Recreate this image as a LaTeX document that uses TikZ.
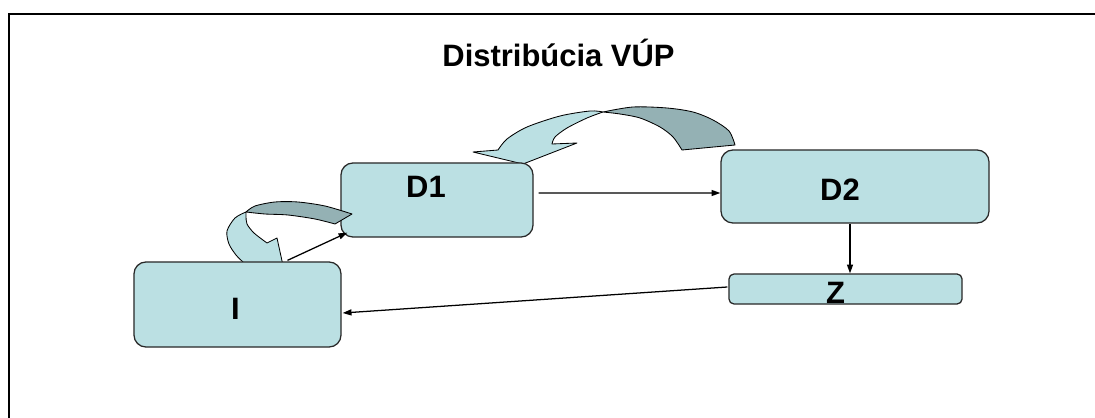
\documentclass[tikz,border=0pt]{standalone}
\usepackage{fontspec}
\setmainfont{Liberation Sans}
\usetikzlibrary{arrows.meta,positioning}

\definecolor{boxfill}{RGB}{187,224,227}
\definecolor{bandback}{RGB}{148,177,180}
\definecolor{boxline}{RGB}{40,40,40}

\begin{document}
\begin{tikzpicture}[
      x=0.025cm, y=-0.025cm,
      font=\bfseries\fontsize{22}{26}\selectfont,
      box/.style={draw=boxline, line width=0.9pt, fill=boxfill,
                  rounded corners=0.3cm, inner sep=0pt},
      lbl/.style={anchor=base, inner sep=0pt},
      band/.style={draw=black, line width=0.6pt, fill=boxfill, line join=round},
      bandbk/.style={band, fill=bandback},
      conn/.style={-{Triangle[length=2.2mm, width=1.5mm]}, line width=0.9pt}
    ]
    \useasboundingbox (0,0) rectangle (1095,418);
    \draw[line width=1.4pt] (1100,14.3) -- (9,14.3) -- (9,425);

    \node[lbl] (title) at (558.5,67) {Distribúcia VÚP};

    \node[box, minimum width=6.7cm, minimum height=1.825cm] (d2) at (855,186.5) {};
    \node[box, minimum width=5.825cm, minimum height=0.75cm,
          rounded corners=0.125cm] (z) at (845.5,289) {};

    % back arrow D2 -> D1
    \filldraw[bandbk] plot[smooth] coordinates {(735,145) (729,131) (713,120)
        (693,112) (667,108) (633,107) (603,112)}
      -- plot[smooth] coordinates {(603,112) (620,114) (640,118) (660,127)
        (673,137) (682,150)} -- cycle;
    \filldraw[band] plot[smooth] coordinates {(603,112) (590,111) (560,116)
        (527,127) (507,139) (498,150)}
      -- (473,152) -- (523,164) -- (577,143) -- (552,144)
      -- plot[smooth] coordinates {(552,144) (555,137) (567,128) (587,118)
        (603,112)} -- cycle;

    \node[box, minimum width=4.8cm, minimum height=1.85cm] (d1) at (437,200) {};

    % back arrow D1 -> I
    \filldraw[bandbk] plot[smooth] coordinates {(352,214) (325,206) (298,202)
        (275,202) (255,206) (246,212)}
      -- plot[smooth] coordinates {(246,212) (265,214) (288,215) (315,219)
        (335,224)} -- cycle;
    \filldraw[band] plot[smooth] coordinates {(246,212) (235,218) (227,231)
        (229,244) (236,255) (243,262)}
      -- (246,270) -- (284,270) -- (277,238) -- (267,243)
      -- plot[smooth] coordinates {(267,243) (254,233) (247,224) (246,216)
        (246,212)} -- cycle;

    \node[box, minimum width=5.175cm, minimum height=2.125cm] (i) at (237.5,304.5) {};

    \node[lbl] (d1lbl) at ([shift={(-11,-2)}]d1.center) {D1};
    \node[lbl] (d2lbl) at ([shift={(-15,14.5)}]d2.center) {D2};
    \node[lbl] (zlbl)  at ([shift={(-10,14)}]z.center) {Z};
    \node[lbl] (ilbl)  at ([shift={(-2,14.5)}]i.center) {I};

    \draw[conn] ([shift={(5,-7)}]d1.east) -- ([shift={(0,6.5)}]d2.west);
    \draw[conn] ([shift={(-5,0)}]d2.south) -- ([shift={(-5,0)}]d2.south |- z.north);
    \draw[conn] ([shift={(-1,-2)}]z.west) -- ([shift={(1,8.5)}]i.east);
    \draw[conn] ([shift={(50,-1)}]i.north) -- ([shift={(7,-5)}]d1.south west);
\end{tikzpicture}
\end{document}
